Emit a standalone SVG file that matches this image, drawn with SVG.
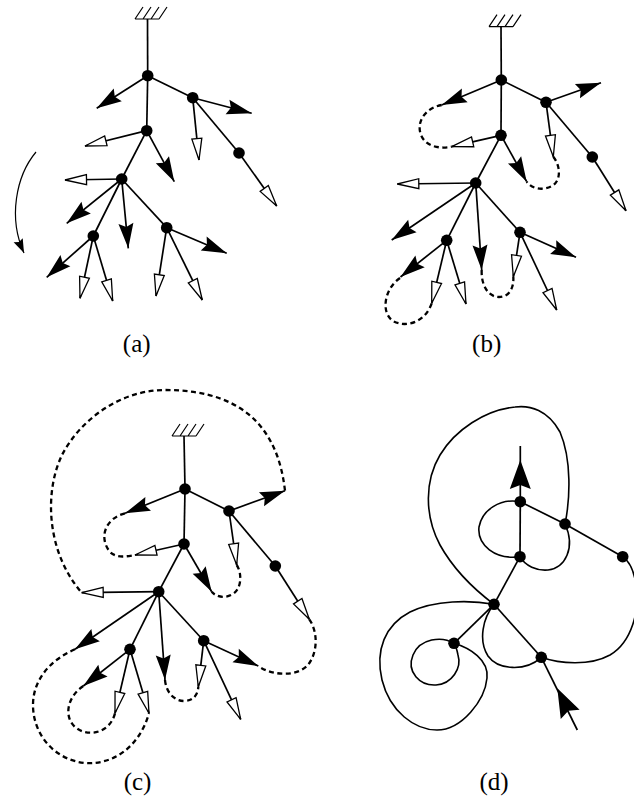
<svg xmlns="http://www.w3.org/2000/svg" width="634" height="799" viewBox="0 0 634 799">
  <style>
    .edge { fill: none; stroke: #000; stroke-width: 1.7; }
    .fa { fill: none; stroke: #000; stroke-width: 1.7; marker-end: url(#headFilled); }
    .oa { fill: none; stroke: #000; stroke-width: 1.7; marker-end: url(#headOpen); }
    .thread { fill: none; stroke: #000; stroke-width: 2.3; stroke-dasharray: 5 3.5; }
    .curve { fill: none; stroke: #000; stroke-width: 1.6; }
    .hatch { fill: none; stroke: #000; stroke-width: 1.2; }
    .node { fill: #000; }
    .label { font-family: "Liberation Serif", "Times New Roman", serif; font-size: 25px; fill: #000; text-anchor: middle; }
  </style>
  <defs>
    <marker id="headFilled" viewBox="-28 -9 30 18" markerWidth="30" markerHeight="18" refX="0" refY="0" orient="auto" markerUnits="userSpaceOnUse">
      <path d="M0,0 L-25,-7.5 L-21.5,0 L-25,7.5 Z" fill="#000"/>
    </marker>
    <marker id="headOpen" viewBox="-24 -7 26 14" markerWidth="26" markerHeight="14" refX="0" refY="0" orient="auto" markerUnits="userSpaceOnUse">
      <path d="M0,0 L-21.5,-5 L-21.5,5 Z" fill="#fff" stroke="#000" stroke-width="1.3"/>
    </marker>
    <marker id="headSmall" viewBox="-16 -7 18 14" markerWidth="18" markerHeight="14" refX="0" refY="0" orient="auto" markerUnits="userSpaceOnUse">
      <path d="M0,0 L-14,-5 L-12,0 L-14,5 Z" fill="#000"/>
    </marker>
    <path id="headBig" d="M0,0 L-29,-10.5 L-25,0 L-29,10.5 Z" fill="#000"/>
    <g id="ground">
      <path class="hatch" d="M0,0 H24 M0,0 L8,-12 M8,0 L16,-12 M16,0 L24,-12 M24,0 L32,-12"/>
    </g>
  </defs>

  <!-- (a) tree with its control directions -->
  <g id="panel-a">
    <use href="#ground" x="135" y="19"/>
    <g id="a-connectors">
      <path class="edge" d="M147.5,19 L147.7,75.7"/>
      <path class="edge" d="M147.7,75.7 L192.7,97.7"/>
      <path class="edge" d="M147.7,75.7 L146.7,130.7"/>
      <path class="edge" d="M146.7,130.7 L121.7,179"/>
      <path class="edge" d="M121.7,179 L166.7,227.7"/>
      <path class="edge" d="M121.7,179 L93.3,236"/>
      <path class="edge" d="M192.7,97.7 L239,153"/>
      <path class="fa" d="M147.7,75.7 L96.7,108.3"/>
      <path class="fa" d="M192.7,97.7 L251.7,113.3"/>
      <path class="fa" d="M146.7,130.7 L174.3,181.7"/>
      <path class="fa" d="M121.7,179 L66.7,223.3"/>
      <path class="fa" d="M121.7,179 L128.3,248.3"/>
      <path class="fa" d="M166.7,227.7 L226.7,253.3"/>
      <path class="fa" d="M93.3,236 L46.7,277.3"/>
      <path class="oa" d="M192.7,97.7 L199,160"/>
      <path class="oa" d="M239,153 L276.7,206"/>
      <path class="oa" d="M146.7,130.7 L85,146"/>
      <path class="oa" d="M121.7,179 L65,180"/>
      <path class="oa" d="M166.7,227.7 L156,296"/>
      <path class="oa" d="M166.7,227.7 L202.3,300"/>
      <path class="oa" d="M93.3,236 L80,298.3"/>
      <path class="oa" d="M93.3,236 L112.7,301"/>
      <path fill="none" stroke="#000" stroke-width="1.2" marker-end="url(#headSmall)" d="M36,152 C 16,176 8,218 24,253"/>
    </g>
    <g id="a-n1"><circle class="node" cx="147.7" cy="75.7" r="5.8"/></g>
    <g id="a-n2"><circle class="node" cx="192.7" cy="97.7" r="5.8"/></g>
    <g id="a-n3"><circle class="node" cx="146.7" cy="130.7" r="5.8"/></g>
    <g id="a-n4"><circle class="node" cx="239" cy="153" r="5.8"/></g>
    <g id="a-n5"><circle class="node" cx="121.7" cy="179" r="5.8"/></g>
    <g id="a-n6"><circle class="node" cx="166.7" cy="227.7" r="5.8"/></g>
    <g id="a-n7"><circle class="node" cx="93.3" cy="236" r="5.8"/></g>
    <text class="label" x="136.7" y="352">(a)</text>
  </g>

  <!-- (b) tree with partial threads -->
  <g id="panel-b">
    <use href="#ground" x="489" y="26.7"/>
    <g id="b-connectors">
      <path class="edge" d="M501,26.7 L501.3,80"/>
      <path class="edge" d="M501.3,80 L546,102.3"/>
      <path class="edge" d="M501.3,80 L501,135.3"/>
      <path class="edge" d="M501,135.3 L475.7,183"/>
      <path class="edge" d="M475.7,183 L520,232.3"/>
      <path class="edge" d="M475.7,183 L446.7,240.3"/>
      <path class="edge" d="M546,102.3 L592.3,157"/>
      <path class="fa" d="M501.3,80 L441.7,105"/>
      <path class="fa" d="M546,102.3 L601,82.7"/>
      <path class="fa" d="M501,135.3 L526.7,181.7"/>
      <path class="fa" d="M475.7,183 L391.7,240"/>
      <path class="fa" d="M475.7,183 L481.7,270"/>
      <path class="fa" d="M520,232.3 L576,257.3"/>
      <path class="fa" d="M446.7,240.3 L400.5,277"/>
      <path class="oa" d="M546,102.3 L553.3,156.7"/>
      <path class="oa" d="M592.3,157 L626,210.7"/>
      <path class="oa" d="M501,135.3 L451.7,146.7"/>
      <path class="oa" d="M475.7,183 L397.3,184"/>
      <path class="oa" d="M520,232.3 L513.3,276.7"/>
      <path class="oa" d="M520,232.3 L556.7,310"/>
      <path class="oa" d="M446.7,240.3 L431.7,303.3"/>
      <path class="oa" d="M446.7,240.3 L466,304"/>
      <path class="thread" d="M441.7,105 C 425,108 416,122 421,135 C 426,147 440,149 451.7,146.7"/>
      <path class="thread" d="M553.3,156.7 C 560,165 562,180 552,186 C 543,191 532,189 526.7,181.7"/>
      <path class="thread" d="M481.7,270 C 481,285 488,297 499,297 C 510,297 514,287 513.3,276.7"/>
      <path class="thread" d="M400,278 C 385,288 380,312 393,321 C 405,328 425,323 431.7,303.3"/>
    </g>
    <g id="b-n1"><circle class="node" cx="501.3" cy="80" r="5.8"/></g>
    <g id="b-n2"><circle class="node" cx="546" cy="102.3" r="5.8"/></g>
    <g id="b-n3"><circle class="node" cx="501" cy="135.3" r="5.8"/></g>
    <g id="b-n4"><circle class="node" cx="592.3" cy="157" r="5.8"/></g>
    <g id="b-n5"><circle class="node" cx="475.7" cy="183" r="5.8"/></g>
    <g id="b-n6"><circle class="node" cx="520" cy="232.3" r="5.8"/></g>
    <g id="b-n7"><circle class="node" cx="446.7" cy="240.3" r="5.8"/></g>
    <text class="label" x="486.7" y="352">(b)</text>
  </g>

  <!-- (c) tree with the complete thread -->
  <g id="panel-c">
    <use href="#ground" x="172" y="436"/>
    <g id="c-connectors">
      <path class="edge" d="M184,436 L185,489"/>
      <path class="edge" d="M185,489 L229,511"/>
      <path class="edge" d="M185,489 L184,544"/>
      <path class="edge" d="M184,544 L158.7,591.7"/>
      <path class="edge" d="M158.7,591.7 L203.7,640.7"/>
      <path class="edge" d="M158.7,591.7 L130,649.3"/>
      <path class="edge" d="M229,511 L275.3,566"/>
      <path class="fa" d="M185,489 L125,513.3"/>
      <path class="fa" d="M229,511 L285,490.7"/>
      <path class="fa" d="M184,544 L211.7,591.7"/>
      <path class="fa" d="M158.7,591.7 L75,649.3"/>
      <path class="fa" d="M158.7,591.7 L165,680"/>
      <path class="fa" d="M203.7,640.7 L258.3,666"/>
      <path class="fa" d="M130,649.3 L83.3,686"/>
      <path class="oa" d="M229,511 L236.7,565"/>
      <path class="oa" d="M275.3,566 L309.3,619.3"/>
      <path class="oa" d="M184,544 L135,555"/>
      <path class="oa" d="M158.7,591.7 L81.7,592.7"/>
      <path class="oa" d="M203.7,640.7 L198.3,686.7"/>
      <path class="oa" d="M203.7,640.7 L240.7,719.3"/>
      <path class="oa" d="M130,649.3 L115,713.3"/>
      <path class="oa" d="M130,649.3 L149,713.3"/>
      <path class="thread" d="M125,513.3 C 106,518 98,537 110,552 C 117,559 128,556 135,555"/>
      <path class="thread" d="M285,490.7 C 282,465 275,445 262,428 C 240,400 205,390 165,390 C 120,390 80,420 62,455 C 45,490 45,550 81.7,592.7"/>
      <path class="thread" d="M236.7,565 C 242,573 242,588 233,594 C 225,599 216,597 211.7,591.7"/>
      <path class="thread" d="M309.3,619.3 C 318,632 318,652 308,665 C 297,677 272,676 258.3,666"/>
      <path class="thread" d="M75,649.3 C 50,660 33,680 33,705 C 33,735 55,760 85,763 C 115,765 140,745 149,713.3"/>
      <path class="thread" d="M165,680 C 166,692 174,701 184,701 C 194,701 198,694 198.3,686.7"/>
      <path class="thread" d="M83.3,686 C 68,696 63,716 75,727 C 88,738 110,733 115,713.3"/>
    </g>
    <g id="c-n1"><circle class="node" cx="185" cy="489" r="5.8"/></g>
    <g id="c-n2"><circle class="node" cx="229" cy="511" r="5.8"/></g>
    <g id="c-n3"><circle class="node" cx="184" cy="544" r="5.8"/></g>
    <g id="c-n4"><circle class="node" cx="275.3" cy="566" r="5.8"/></g>
    <g id="c-n5"><circle class="node" cx="158.7" cy="591.7" r="5.8"/></g>
    <g id="c-n6"><circle class="node" cx="203.7" cy="640.7" r="5.8"/></g>
    <g id="c-n7"><circle class="node" cx="130" cy="649.3" r="5.8"/></g>
    <text class="label" x="137.5" y="790">(c)</text>
  </g>

  <!-- (d) graph traced by one closed curve -->
  <g id="panel-d">
    <g id="d-connectors">
      <path class="edge" d="M520.3,446 L520.3,501.7"/>
      <path class="edge" d="M520.3,501.7 L520,556.7"/>
      <path class="edge" d="M520.3,501.7 L565,524"/>
      <path class="edge" d="M565,524 L622.7,556.7"/>
      <path class="edge" d="M520,556.7 L494,604.3"/>
      <path class="edge" d="M494,604.3 L454,643.3"/>
      <path class="edge" d="M494,604.3 L541.3,657.3"/>
      <path class="edge" d="M541.3,657.3 L577.3,730"/>
      <use href="#headBig" transform="translate(520.3,460) rotate(-90)"/>
      <use href="#headBig" transform="translate(557.3,688.3) rotate(-116.35)"/>
      <path class="curve" d="M520.3,501.7 C 500,498 482,510 479,527 C 477,545 495,560 520,556.7"/>
      <path class="curve" d="M520,556.7 C 525,566 537,571 548,570 C 565,568 576,548 565,524"/>
      <path class="curve" d="M565,524 C 570,500 572,460 560,432 C 548,410 530,405 515,407 C 485,410 455,430 440,455 C 425,480 424,515 440,545 C 455,572 475,590 494,604.3"/>
      <path class="curve" d="M494,604.3 C 470,600 435,600 410,612 C 385,625 375,650 382,680 C 390,712 415,730 437,730 C 462,730 485,700 487,678 C 489,660 470,648 454,643.3"/>
      <path class="curve" d="M454,643.3 C 442,636 420,638 413,655 C 406,672 420,686 436,685 C 452,684 462,668 458,655 C 457,650 456,646 454,643.3"/>
      <path class="curve" d="M494,604.3 C 483,618 478,640 488,656 C 498,670 525,672 541.3,657.3"/>
      <path class="curve" d="M541.3,657.3 C 560,664 590,666 610,655 C 632,642 640,610 636,585 C 634,570 630,562 622.7,556.7"/>
    </g>
    <g id="d-a"><circle class="node" cx="520.3" cy="501.7" r="5.8"/></g>
    <g id="d-b"><circle class="node" cx="565" cy="524" r="5.8"/></g>
    <g id="d-c"><circle class="node" cx="520" cy="556.7" r="5.8"/></g>
    <g id="d-d"><circle class="node" cx="622.7" cy="556.7" r="5.8"/></g>
    <g id="d-e"><circle class="node" cx="494" cy="604.3" r="5.8"/></g>
    <g id="d-f"><circle class="node" cx="454" cy="643.3" r="5.8"/></g>
    <g id="d-g"><circle class="node" cx="541.3" cy="657.3" r="5.8"/></g>
    <text class="label" x="494" y="790">(d)</text>
  </g>
</svg>
